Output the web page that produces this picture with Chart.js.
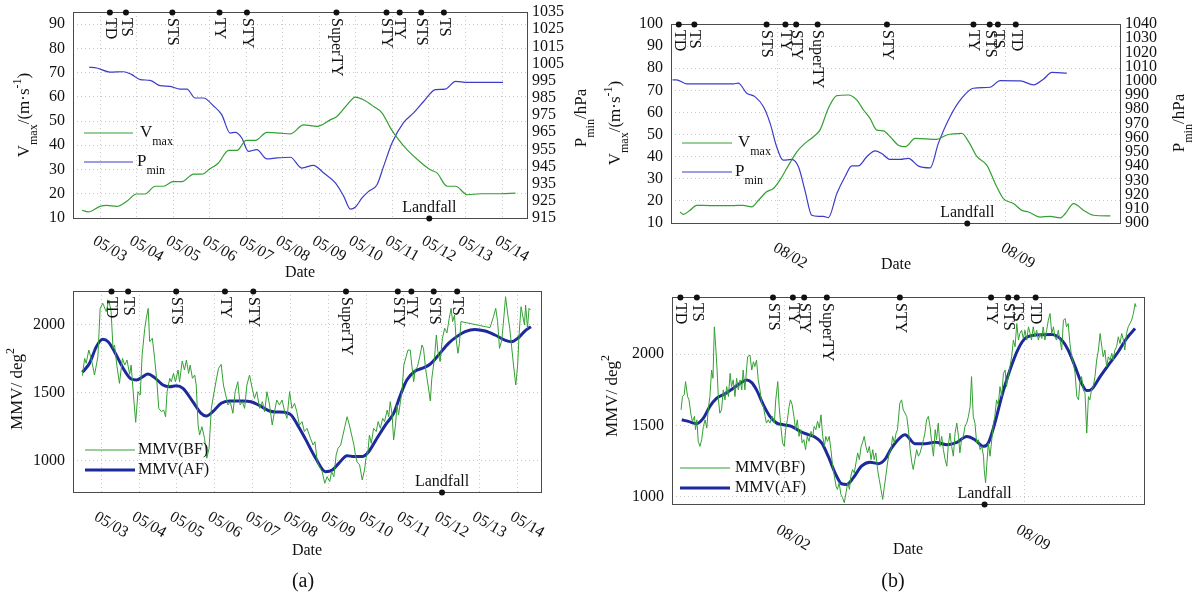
<!DOCTYPE html>
<html>
<head>
<meta charset="utf-8">
<title>Typhoon intensity and MMV</title>
<style>
  body { margin: 0; background: #fff; }
  #wrap { position: relative; width: 1200px; height: 598px; overflow: hidden; }
  canvas { position: absolute; }
</style>
</head>
<body>
<div id="wrap">
  <canvas id="a1" width="600" height="282" style="left:0;top:0"></canvas>
  <canvas id="a2" width="600" height="318" style="left:0;top:280px"></canvas>
  <canvas id="b1" width="600" height="282" style="left:600px;top:0"></canvas>
  <canvas id="b2" width="600" height="318" style="left:600px;top:280px"></canvas>
</div>
<script src="https://cdn.jsdelivr.net/npm/chart.js"></script>
<script>
// ---- data: x = day of month (May for a, August for b; July days are <= 0) ----
var dateTicksA = [3, 4, 5, 6, 7, 8, 9, 10, 11, 12, 13, 14];
var dateLabelsA = ['05/03', '05/04', '05/05', '05/06', '05/07', '05/08', '05/09', '05/10', '05/11', '05/12', '05/13', '05/14'];
var dateTicksB = [2, 9];
var dateLabelsB = ['08/02', '08/09'];

var vTicksA = [10, 20, 30, 40, 50, 60, 70, 80, 90];
var pTicksA = [915, 925, 935, 945, 955, 965, 975, 985, 995, 1005, 1015, 1025, 1035];
var vTicksB = [10, 20, 30, 40, 50, 60, 70, 80, 90, 100];
var pTicksB = [900, 910, 920, 930, 940, 950, 960, 970, 980, 990, 1000, 1010, 1020, 1030, 1040];
var mmvTicks = [1000, 1500, 2000];

var stageNamesA = ['TD', 'TS', 'STS', 'TY', 'STY', 'SuperTY', 'STY', 'TY', 'STS', 'TS'];
var stageDaysA = [3.27, 3.71, 4.98, 6.27, 7.02, 9.47, 10.84, 11.2, 11.79, 12.41];
var landfallA = 12.01;
var stageNamesB = ['TD', 'TS', 'STS', 'TY', 'STY', 'SuperTY', 'STY', 'TY', 'STS', 'TS', 'TD'];
var stageDaysB = [-1.03, -0.55, 1.67, 2.25, 2.58, 3.24, 5.37, 8.03, 8.53, 8.78, 9.33];
var landfallB = 7.84;

var vmaxA = [[2.51,13.2],[2.68,12.5],[3.0,14.8],[3.18,15.2],[3.46,14.8],[3.73,16.9],[4.0,19.9],[4.23,19.9],[4.51,23.1],[4.73,23.1],[5.0,25.0],[5.24,25.0],[5.56,28.1],[5.79,28.1],[6.0,30.2],[6.24,32.7],[6.52,37.9],[6.75,37.9],[7.0,42.0],[7.25,42.0],[7.57,45.3],[7.93,45.0],[8.21,44.7],[8.57,48.4],[8.94,47.8],[9.3,50.5],[9.48,51.9],[9.76,56.7],[9.99,59.9],[10.21,58.8],[10.49,56.0],[10.72,53.3],[10.95,47.1],[11.17,42.3],[11.4,38.2],[11.77,33.0],[12.04,29.9],[12.22,28.6],[12.5,23.1],[12.73,23.1],[13.05,19.6],[13.41,20.0],[13.96,20.0],[14.37,20.3]];
var pminA = [[2.70,1002.8],[2.91,1002.4],[3.27,1000.0],[3.64,1000.2],[3.87,998.5],[4.10,995.6],[4.37,995.2],[4.64,992.1],[4.92,991.7],[5.19,990.1],[5.38,990.1],[5.60,984.9],[5.83,984.9],[6.10,980.4],[6.33,975.2],[6.56,964.5],[6.70,964.9],[6.88,961.6],[7.06,953.8],[7.29,954.8],[7.57,949.4],[7.84,950.0],[8.21,950.4],[8.52,944.1],[8.84,945.7],[9.12,941.2],[9.44,935.4],[9.67,927.6],[9.85,920.2],[9.99,921.4],[10.17,926.7],[10.35,930.5],[10.58,934.4],[10.76,945.1],[10.99,958.7],[11.31,970.7],[11.58,976.2],[11.86,983.0],[12.18,989.8],[12.45,990.1],[12.73,994.6],[13.05,994.0],[13.6,994.0],[14.03,994.0]];

var mmvBfA = [[2.50,1624],[2.56,1751],[2.60,1715],[2.67,1812],[2.72,1763],[2.76,1715],[2.82,1629],[2.87,1702],[2.91,1763],[2.97,2117],[3.04,2154],[3.13,2093],[3.20,2178],[3.26,2093],[3.31,1824],[3.35,1849],[3.41,1702],[3.48,1568],[3.56,1751],[3.62,1702],[3.68,1739],[3.75,1634],[3.79,1702],[3.85,1483],[3.91,1283],[3.97,1507],[4.03,1483],[4.08,1776],[4.15,1971],[4.19,2044],[4.24,2117],[4.28,1873],[4.35,1898],[4.41,1751],[4.47,1580],[4.52,1385],[4.59,1361],[4.65,1373],[4.70,1324],[4.74,1507],[4.81,1605],[4.85,1580],[4.91,1641],[4.96,1580],[5.03,1666],[5.07,1580],[5.14,1732],[5.20,1666],[5.25,1739],[5.31,1641],[5.35,1702],[5.41,1605],[5.47,1629],[5.51,1556],[5.56,1263],[5.60,1190],[5.66,1251],[5.73,1166],[5.79,1020],[5.85,1093],[5.91,1385],[5.97,1483],[6.04,1593],[6.10,1678],[6.17,1707],[6.23,1556],[6.29,1483],[6.35,1410],[6.41,1434],[6.48,1349],[6.54,1507],[6.61,1580],[6.67,1410],[6.73,1434],[6.79,1385],[6.85,1556],[6.92,1629],[6.99,1532],[7.05,1458],[7.11,1507],[7.19,1385],[7.26,1434],[7.32,1361],[7.38,1507],[7.45,1410],[7.52,1263],[7.58,1361],[7.64,1446],[7.71,1410],[7.78,1446],[7.85,1361],[7.91,1312],[7.98,1507],[8.04,1385],[8.11,1422],[8.17,1361],[8.24,1263],[8.31,1288],[8.37,1215],[8.44,1239],[8.53,1166],[8.60,1117],[8.65,1141],[8.71,995],[8.77,959],[8.84,922],[8.91,837],[8.97,885],[9.04,849],[9.09,922],[9.15,885],[9.21,1044],[9.26,1093],[9.33,1117],[9.39,1190],[9.44,1251],[9.50,1324],[9.56,1263],[9.62,1190],[9.68,1117],[9.72,1044],[9.76,995],[9.83,971],[9.90,861],[9.96,934],[10.00,1020],[10.05,1068],[10.09,1190],[10.14,1129],[10.20,1239],[10.27,1215],[10.32,1288],[10.38,1239],[10.44,1312],[10.49,1288],[10.56,1373],[10.60,1324],[10.64,1434],[10.69,1337],[10.73,1154],[10.78,1263],[10.82,1410],[10.86,1337],[10.91,1434],[10.95,1507],[11.00,1702],[11.06,1763],[11.11,1812],[11.17,1812],[11.21,1702],[11.26,1580],[11.30,1666],[11.36,1690],[11.42,1763],[11.48,1849],[11.52,1824],[11.58,1666],[11.64,1556],[11.70,1439],[11.74,1605],[11.81,1751],[11.86,1922],[11.90,1800],[11.96,1727],[12.02,1898],[12.08,1971],[12.14,1937],[12.20,2044],[12.25,2117],[12.29,2020],[12.34,2068],[12.38,1898],[12.43,1788],[12.47,1861],[12.51,2020],[13.28,1976],[13.37,2056],[13.43,2117],[13.48,2020],[13.53,1824],[13.59,1885],[13.65,2068],[13.69,2202],[13.75,2068],[13.80,1971],[13.85,1837],[13.90,1702],[13.96,1556],[14.01,1702],[14.05,1937],[14.10,2129],[14.14,2068],[14.19,1995],[14.22,2141],[14.27,1971],[14.31,2117],[14.35,2105]];
var mmvAfA = [[2.50,1649],[2.69,1715],[2.87,1837],[3.04,1890],[3.18,1873],[3.35,1800],[3.57,1683],[3.79,1600],[3.93,1593],[4.10,1617],[4.23,1637],[4.41,1610],[4.63,1556],[4.81,1544],[4.98,1551],[5.16,1532],[5.42,1434],[5.64,1349],[5.78,1329],[5.95,1361],[6.17,1422],[6.39,1439],[6.74,1439],[6.96,1434],[7.19,1405],[7.45,1366],[7.63,1359],[7.85,1356],[8.02,1337],[8.24,1239],[8.40,1160],[8.67,1020],[8.93,922],[9.11,934],[9.28,983],[9.50,1039],[9.68,1032],[9.90,1032],[10.07,1068],[10.29,1166],[10.51,1263],[10.73,1349],[10.91,1483],[11.08,1593],[11.30,1659],[11.48,1678],[11.70,1710],[11.92,1776],[12.18,1861],[12.40,1910],[12.62,1946],[12.88,1963],[13.15,1951],[13.41,1922],[13.67,1885],[13.85,1873],[14.03,1902],[14.20,1951],[14.36,1983]];

var vmaxB = [[-0.99,15.0],[-0.89,13.9],[-0.69,15.7],[-0.48,18.0],[-0.07,17.9],[0.65,17.9],[0.95,18.0],[1.21,17.3],[1.42,20.3],[1.67,24.1],[1.88,25.6],[2.08,29.4],[2.29,34.7],[2.60,42.2],[2.85,46.0],[3.11,49.0],[3.31,52.0],[3.57,61.9],[3.83,67.6],[4.18,67.9],[4.44,65.7],[4.65,61.1],[4.85,57.3],[5.06,52.0],[5.26,51.7],[5.47,49.0],[5.72,45.2],[5.93,44.5],[6.24,48.3],[6.90,47.8],[7.21,49.8],[7.67,50.5],[7.88,46.8],[8.14,40.0],[8.44,36.2],[8.70,27.8],[8.95,21.0],[9.26,18.8],[9.52,15.7],[9.72,15.0],[10.08,12.7],[10.39,13.0],[10.70,12.3],[10.85,14.2],[11.11,18.8],[11.42,15.7],[11.72,13.5],[12.24,13.2]];
var pminB = [[-1.22,1000.7],[-1.10,1000.7],[-0.79,997.9],[-0.38,997.9],[0.65,997.9],[0.80,998.4],[1.06,991.3],[1.31,988.9],[1.57,981.9],[1.78,970.1],[1.98,953.6],[2.18,944.2],[2.44,944.7],[2.65,939.5],[2.85,923.0],[3.06,905.4],[3.26,904.7],[3.42,904.7],[3.57,903.8],[3.83,920.7],[4.08,932.5],[4.29,940.2],[4.49,940.2],[4.75,946.6],[5.01,950.8],[5.21,948.9],[5.47,944.7],[5.78,944.7],[6.03,945.4],[6.34,940.0],[6.70,938.8],[6.95,956.0],[7.31,974.8],[7.67,987.8],[8.03,994.8],[8.54,995.5],[8.85,1000.2],[9.47,1000.0],[9.88,997.2],[10.18,1001.2],[10.44,1005.9],[10.90,1005.4]];

var mmvBfB = [[-1.01,1609],[-0.97,1702],[-0.92,1714],[-0.88,1807],[-0.82,1702],[-0.78,1679],[-0.72,1574],[-0.68,1528],[-0.62,1563],[-0.59,1470],[-0.55,1539],[-0.51,1388],[-0.46,1353],[-0.41,1400],[-0.36,1493],[-0.31,1539],[-0.26,1481],[-0.22,1609],[-0.17,1702],[-0.12,1888],[-0.08,1830],[-0.04,2191],[0.00,2051],[0.04,1888],[0.08,1679],[0.12,1586],[0.17,1609],[0.22,1749],[0.27,1679],[0.32,1772],[0.37,1702],[0.42,1865],[0.46,1772],[0.51,1819],[0.56,1702],[0.61,1830],[0.66,1749],[0.71,1819],[0.76,1749],[0.80,1888],[0.85,1749],[0.93,1981],[1.00,1993],[1.05,1888],[1.10,1946],[1.14,1912],[1.19,1958],[1.24,1819],[1.29,1749],[1.34,1656],[1.39,1633],[1.44,1563],[1.48,1516],[1.53,1539],[1.58,1516],[1.65,1563],[1.71,1516],[1.75,1679],[1.81,1807],[1.85,1633],[1.90,1493],[1.95,1377],[2.00,1353],[2.04,1470],[2.09,1539],[2.14,1633],[2.18,1679],[2.23,1644],[2.28,1563],[2.33,1470],[2.38,1539],[2.43,1423],[2.48,1470],[2.52,1377],[2.57,1400],[2.62,1330],[2.67,1423],[2.72,1388],[2.78,1458],[2.83,1423],[2.87,1493],[2.92,1470],[2.97,1528],[3.02,1481],[3.07,1574],[3.12,1423],[3.17,1353],[3.21,1423],[3.26,1388],[3.31,1423],[3.36,1330],[3.41,1214],[3.46,1144],[3.51,1074],[3.55,1051],[3.60,1098],[3.65,1016],[3.70,993],[3.75,958],[3.80,1028],[3.85,1098],[3.90,1051],[3.94,1144],[3.99,1191],[4.04,1167],[4.09,1237],[4.14,1307],[4.19,1260],[4.24,1353],[4.28,1377],[4.33,1423],[4.38,1353],[4.43,1307],[4.48,1353],[4.53,1260],[4.58,1330],[4.62,1260],[4.67,1307],[4.72,1191],[4.77,1121],[4.82,1051],[4.87,981],[4.92,1074],[4.96,1144],[5.01,1237],[5.06,1307],[5.11,1330],[5.16,1423],[5.21,1377],[5.26,1446],[5.30,1470],[5.37,1656],[5.42,1679],[5.47,1609],[5.57,1563],[5.62,1470],[5.67,1330],[5.72,1237],[5.76,1191],[5.81,1260],[5.86,1330],[5.91,1284],[5.96,1307],[6.01,1353],[6.06,1400],[6.10,1446],[6.15,1539],[6.20,1563],[6.25,1493],[6.30,1377],[6.35,1284],[6.40,1470],[6.44,1400],[6.49,1516],[6.54,1353],[6.59,1423],[6.64,1330],[6.69,1260],[6.74,1214],[6.78,1353],[6.83,1446],[6.88,1353],[6.93,1284],[6.98,1446],[7.03,1516],[7.08,1423],[7.12,1307],[7.17,1400],[7.22,1423],[7.27,1493],[7.32,1516],[7.37,1563],[7.42,1633],[7.46,1842],[7.51,1563],[7.56,1516],[7.61,1377],[7.66,1400],[7.71,1330],[7.76,1353],[7.81,1284],[7.83,1191],[7.87,1098],[7.91,1237],[7.95,1377],[8.00,1284],[8.05,1400],[8.10,1516],[8.14,1563],[8.19,1679],[8.24,1644],[8.29,1772],[8.34,1702],[8.39,1865],[8.44,1888],[8.48,1772],[8.53,1842],[8.58,1912],[8.63,1981],[8.68,2098],[8.73,2051],[8.78,2214],[8.83,2098],[8.87,2144],[8.92,2167],[8.97,2109],[9.02,2167],[9.07,2098],[9.12,2191],[9.17,2144],[9.21,2098],[9.26,2191],[9.31,2121],[9.36,2167],[9.41,2098],[9.46,2144],[9.51,2109],[9.55,2191],[9.60,2098],[9.65,2167],[9.70,2237],[9.75,2284],[9.80,2144],[9.85,2191],[9.89,2121],[9.94,2098],[9.99,2167],[10.04,2098],[10.09,2028],[10.14,2237],[10.19,2249],[10.23,2191],[10.28,2214],[10.33,2074],[10.38,1981],[10.43,1935],[10.48,1865],[10.53,1702],[10.58,1679],[10.62,1795],[10.67,1842],[10.72,1749],[10.77,1726],[10.82,1446],[10.87,1702],[10.91,1679],[10.96,1749],[11.01,1772],[11.06,1842],[11.11,1958],[11.16,2028],[11.21,2144],[11.26,2051],[11.30,1981],[11.35,2028],[11.40,1912],[11.45,1981],[11.50,1958],[11.55,2005],[11.59,1958],[11.64,2028],[11.69,2051],[11.74,2121],[11.79,2074],[11.84,2144],[11.89,2098],[11.93,2028],[11.98,2144],[12.03,2191],[12.08,2214],[12.13,2237],[12.18,2284],[12.23,2354],[12.26,2330]];
var mmvAfB = [[-0.99,1539],[-0.80,1528],[-0.56,1512],[-0.36,1551],[-0.17,1633],[0.03,1691],[0.27,1721],[0.51,1760],[0.71,1795],[0.90,1819],[1.05,1800],[1.19,1749],[1.39,1644],[1.58,1563],[1.78,1516],[1.97,1505],[2.21,1493],[2.46,1458],[2.70,1435],[2.89,1419],[3.09,1377],[3.28,1284],[3.48,1167],[3.67,1091],[3.82,1086],[4.01,1132],[4.25,1214],[4.50,1242],[4.74,1232],[4.93,1260],[5.13,1342],[5.42,1423],[5.52,1435],[5.81,1372],[6.10,1372],[6.40,1381],[6.74,1365],[7.03,1381],[7.32,1423],[7.56,1400],[7.80,1353],[7.95,1377],[8.14,1516],[8.34,1702],[8.58,1888],[8.83,2040],[9.02,2109],[9.31,2133],[9.80,2137],[10.09,2098],[10.28,2028],[10.48,1912],[10.67,1795],[10.82,1744],[10.96,1753],[11.21,1842],[11.45,1923],[11.74,2016],[11.98,2109],[12.23,2179]];

// ---- styling ----
var FONT = 'Liberation Serif';
Chart.defaults.font.family = FONT;
Chart.defaults.font.size = 16;
Chart.defaults.color = '#111';

var GREEN = '#33a033';
var BLUE = '#3c3cc8';
var NAVY = '#1c2a9c';
var GRID = '#c8c8c8';

function pts(arr) {
	return arr.map(function (p) { return {x: p[0], y: p[1]}; });
}

function fixSize(w, h) {
	return function (s) {
		if (w != null) s.width = w;
		if (h != null) s.height = h;
		s.paddingTop = s.paddingBottom = s.paddingLeft = s.paddingRight = 0;
	};
}

function setTicks(vals) {
	return function (s) {
		s.ticks = vals.map(function (v) { return {value: v}; });
	};
}

function xScale(min, max, ticks, h) {
	return {
		type: 'linear', position: 'bottom', min: min, max: max, bounds: 'data',
		afterBuildTicks: setTicks(ticks), afterFit: fixSize(null, h),
		ticks: {display: false},
		grid: {color: GRID, drawTicks: false},
		border: {display: false, dash: [1, 3]}
	};
}

function yScale(pos, min, max, ticks, w, onArea, pad) {
	return {
		type: 'linear', position: pos, min: min, max: max, bounds: 'data',
		afterBuildTicks: setTicks(ticks), afterFit: fixSize(w, null),
		ticks: {autoSkip: false, padding: pad, callback: function (v) { return String(v); }},
		grid: {color: GRID, drawTicks: false, drawOnChartArea: onArea},
		border: {display: false, dash: [1, 3]}
	};
}

function fontStr(size) { return size + 'px "' + FONT + '"'; }

// text with sub / superscript parts
function drawRich(ctx, parts, x, y, size, align, rot) {
	ctx.save();
	ctx.translate(x, y);
	if (rot) ctx.rotate(rot);
	ctx.textBaseline = 'middle';
	ctx.textAlign = 'left';
	var small = Math.round(size * 0.72);
	var total = 0;
	var widths = parts.map(function (p) {
		ctx.font = fontStr(p.s ? small : size);
		var w = ctx.measureText(p.t).width;
		total += w;
		return w;
	});
	var cx = align === 'center' ? -total / 2 : 0;
	parts.forEach(function (p, i) {
		ctx.font = fontStr(p.s ? small : size);
		var dy = p.s === 'sub' ? size * 0.5 : (p.s === 'sup' ? -size * 0.4 : 0);
		ctx.fillText(p.t, cx, dy);
		cx += widths[i];
	});
	ctx.restore();
}

function deco(spec) {
	return {
		id: 'deco',
		afterDraw: function (chart) {
			var ctx = chart.ctx, a = chart.chartArea, xs = chart.scales.x;
			ctx.save();
			ctx.fillStyle = '#111';
			ctx.strokeStyle = '#4a4a4a';
			ctx.lineWidth = 1;
			ctx.strokeRect(Math.round(a.left) + 0.5, Math.round(a.top) + 0.5,
				Math.round(a.right - a.left), Math.round(a.bottom - a.top));

			// date labels, rotated
			ctx.font = fontStr(16);
			ctx.textAlign = 'left';
			ctx.textBaseline = 'top';
			spec.dateTicks.forEach(function (d, i) {
				ctx.save();
				ctx.translate(xs.getPixelForValue(d) + spec.dx, a.bottom + spec.dy);
				ctx.rotate(Math.PI / 6);
				ctx.fillText(spec.dateLabels[i], 0, 0);
				ctx.restore();
			});

			// intensity stages along the top
			spec.stageDays.forEach(function (d, i) {
				var x = xs.getPixelForValue(d);
				ctx.beginPath();
				ctx.arc(x, a.top + 0.5, 3, 0, Math.PI * 2);
				ctx.fill();
				ctx.save();
				ctx.translate(x, a.top + 6);
				ctx.rotate(Math.PI / 2);
				ctx.textBaseline = 'middle';
				ctx.fillText(spec.stageNames[i], 0, 0);
				ctx.restore();
			});

			// landfall
			var lx = xs.getPixelForValue(spec.landfall);
			ctx.beginPath();
			ctx.arc(lx, a.bottom + 0.5, 3, 0, Math.PI * 2);
			ctx.fill();
			ctx.textAlign = 'center';
			ctx.textBaseline = 'alphabetic';
			ctx.fillText('Landfall', lx, a.bottom - 6);

			// legend inside plot
			spec.legend.forEach(function (it) {
				ctx.strokeStyle = it.color;
				ctx.lineWidth = it.width;
				ctx.beginPath();
				ctx.moveTo(it.x1, it.y);
				ctx.lineTo(it.x2, it.y);
				ctx.stroke();
				drawRich(ctx, it.parts, it.tx, it.y, it.size, 'left', 0);
			});

			// axis titles
			spec.titles.forEach(function (t) {
				drawRich(ctx, t.parts, t.x, t.y, t.size, 'center', t.rot);
			});
			ctx.restore();
		}
	};
}

var vTitle = [{t: 'V'}, {t: 'max', s: 'sub'}, {t: '/(m·s'}, {t: '-1', s: 'sup'}, {t: ')'}];
var pTitle = [{t: 'P'}, {t: 'min', s: 'sub'}, {t: '/hPa'}];
var mTitle = [{t: 'MMV/ deg'}, {t: '2', s: 'sup'}];
var dateTitle = [{t: 'Date'}];
var vLeg = [{t: 'V'}, {t: 'max', s: 'sub'}];
var pLeg = [{t: 'P'}, {t: 'min', s: 'sub'}];
var bfLeg = [{t: 'MMV(BF)'}];
var afLeg = [{t: 'MMV(AF)'}];

function baseOptions(padding, scales) {
	return {
		responsive: false, animation: false, devicePixelRatio: 1,
		layout: {padding: padding, autoPadding: false},
		plugins: {legend: {display: false}, tooltip: {enabled: false}},
		elements: {point: {radius: 0}},
		scales: scales
	};
}

// (a) top: Vmax / Pmin
new Chart(document.getElementById('a1'), {
	type: 'line',
	data: {datasets: [
		{label: 'Vmax', data: pts(vmaxA), yAxisID: 'y', borderColor: GREEN, borderWidth: 1.2, cubicInterpolationMode: 'monotone'},
		{label: 'Pmin', data: pts(pminA), yAxisID: 'y2', borderColor: BLUE, borderWidth: 1.2, cubicInterpolationMode: 'monotone'}
	]},
	options: baseOptions({top: 12, left: 0, right: 0, bottom: 0}, {
		x: xScale(2.261, 14.684, dateTicksA, 64),
		y: yScale('left', 10, 95, vTicksA, 73, true, 8),
		y2: yScale('right', 915, 1035, pTicksA, 73, false, 5)
	}),
	plugins: [deco({
		dateTicks: dateTicksA, dateLabels: dateLabelsA, dx: -2, dy: 15,
		stageDays: stageDaysA, stageNames: stageNamesA, landfall: landfallA,
		legend: [
			{x1: 84, x2: 133, y: 133, color: GREEN, width: 1.2, tx: 140, parts: vLeg, size: 17},
			{x1: 84, x2: 133, y: 162, color: BLUE, width: 1.2, tx: 137, parts: pLeg, size: 17}
		],
		titles: [
			{parts: vTitle, x: 25, y: 115, size: 17, rot: -Math.PI / 2},
			{parts: pTitle, x: 582, y: 118, size: 17, rot: -Math.PI / 2},
			{parts: dateTitle, x: 300, y: 273, size: 16, rot: 0}
		]
	})]
});

// (a) bottom: MMV
new Chart(document.getElementById('a2'), {
	type: 'line',
	data: {datasets: [
		{label: 'MMV(BF)', data: pts(mmvBfA), borderColor: GREEN, borderWidth: 1, tension: 0},
		{label: 'MMV(AF)', data: pts(mmvAfA), borderColor: NAVY, borderWidth: 3, cubicInterpolationMode: 'monotone'}
	]},
	options: baseOptions({top: 11, left: 0, right: 59, bottom: 0}, {
		x: xScale(2.252, 14.627, dateTicksA, 106),
		y: yScale('left', 773, 2244, mmvTicks, 73, true, 8)
	}),
	plugins: [deco({
		dateTicks: dateTicksA, dateLabels: dateLabelsA, dx: -2, dy: 17,
		stageDays: stageDaysA, stageNames: stageNamesA, landfall: landfallA,
		legend: [
			{x1: 85, x2: 135, y: 170, color: GREEN, width: 1, tx: 138, parts: bfLeg, size: 16},
			{x1: 85, x2: 135, y: 190, color: NAVY, width: 3, tx: 138, parts: afLeg, size: 16}
		],
		titles: [
			{parts: mTitle, x: 18, y: 109, size: 17, rot: -Math.PI / 2},
			{parts: dateTitle, x: 307, y: 271, size: 16, rot: 0},
			{parts: [{t: '(a)'}], x: 303, y: 302, size: 20, rot: 0}
		]
	})]
});

// (b) top: Vmax / Pmin
new Chart(document.getElementById('b1'), {
	type: 'line',
	data: {datasets: [
		{label: 'Vmax', data: pts(vmaxB), yAxisID: 'y', borderColor: GREEN, borderWidth: 1.2, cubicInterpolationMode: 'monotone'},
		{label: 'Pmin', data: pts(pminB), yAxisID: 'y2', borderColor: BLUE, borderWidth: 1.2, cubicInterpolationMode: 'monotone'}
	]},
	options: baseOptions({top: 24, left: 0, right: 0, bottom: 0}, {
		x: xScale(-1.268, 12.535, dateTicksB, 59),
		y: yScale('left', 10, 100, vTicksB, 71, true, 8),
		y2: yScale('right', 900, 1040, pTicksB, 80, false, 5)
	}),
	plugins: [deco({
		dateTicks: dateTicksB, dateLabels: dateLabelsB, dx: 1, dy: 17,
		stageDays: stageDaysB, stageNames: stageNamesB, landfall: landfallB,
		legend: [
			{x1: 82, x2: 132, y: 143, color: GREEN, width: 1.2, tx: 138, parts: vLeg, size: 17},
			{x1: 82, x2: 132, y: 172, color: BLUE, width: 1.2, tx: 135, parts: pLeg, size: 17}
		],
		titles: [
			{parts: vTitle, x: 16, y: 123, size: 17, rot: -Math.PI / 2},
			{parts: pTitle, x: 580, y: 123, size: 17, rot: -Math.PI / 2},
			{parts: dateTitle, x: 296, y: 265, size: 16, rot: 0}
		]
	})]
});

// (b) bottom: MMV
new Chart(document.getElementById('b2'), {
	type: 'line',
	data: {datasets: [
		{label: 'MMV(BF)', data: pts(mmvBfB), borderColor: GREEN, borderWidth: 1, tension: 0},
		{label: 'MMV(AF)', data: pts(mmvAfB), borderColor: NAVY, borderWidth: 3, cubicInterpolationMode: 'monotone'}
	]},
	options: baseOptions({top: 17, left: 0, right: 56, bottom: 0}, {
		x: xScale(-1.275, 12.49, dateTicksB, 94),
		y: yScale('left', 949, 2400, mmvTicks, 72, true, 8)
	}),
	plugins: [deco({
		dateTicks: dateTicksB, dateLabels: dateLabelsB, dx: -3, dy: 18,
		stageDays: stageDaysB, stageNames: stageNamesB, landfall: landfallB,
		legend: [
			{x1: 80, x2: 130, y: 188, color: GREEN, width: 1, tx: 135, parts: bfLeg, size: 16},
			{x1: 80, x2: 130, y: 208, color: NAVY, width: 3, tx: 135, parts: afLeg, size: 16}
		],
		titles: [
			{parts: mTitle, x: 13, y: 116, size: 17, rot: -Math.PI / 2},
			{parts: dateTitle, x: 308, y: 270, size: 16, rot: 0},
			{parts: [{t: '(b)'}], x: 293, y: 302, size: 20, rot: 0}
		]
	})]
});
</script>
</body>
</html>
